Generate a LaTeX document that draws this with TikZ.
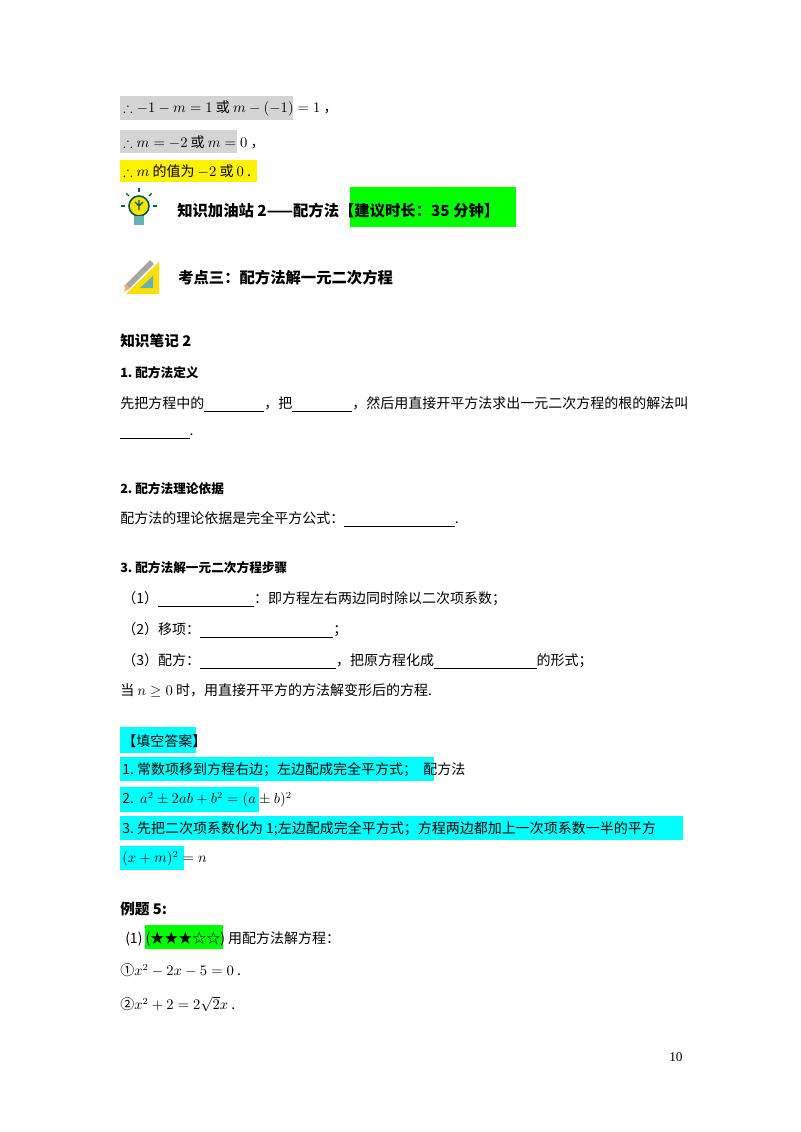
\documentclass[tikz,border=0pt]{standalone}
\usepackage{amsmath,amssymb}
\usepackage{fontspec}
\usetikzlibrary{calc}
\setmainfont{Noto Sans CJK SC}
\newfontfamily\lat{Liberation Serif}
\definecolor{cy}{RGB}{0,255,255}
\definecolor{gr}{RGB}{0,255,0}
\begin{document}
\begin{tikzpicture}[x=0.75pt,y=-0.75pt,
  t/.style={anchor=west,inner sep=0pt,font=\fontsize{10.5pt}{12pt}\selectfont},
  h/.style={t,font=\fontsize{11pt}{13pt}\selectfont\bfseries},
  gray/.style={fill=black!17,draw=none},
  yel/.style={fill=yellow,draw=none},
  grn/.style={fill=gr,draw=none},
  cyn/.style={fill=cy,draw=none}]
\newcommand{\blank}[1]{\rule[-2pt]{#1pt}{0.4pt}}
\useasboundingbox (0,0) rectangle (800,1132);
\fill[white] (0,0) rectangle (800,1132);
% highlights
\fill[gray] (120,96) rectangle (293,120);
\fill[gray] (120,130) rectangle (237,153);
\fill[yel] (120,160) rectangle (257,182);
\fill[grn] (350,187) rectangle (516,227);
\fill[cyn] (120,727) rectangle (196,753);
\fill[cyn] (120,757) rectangle (434,781);
\fill[cyn] (120,787) rectangle (259,812);
\fill[cyn] (120,816) rectangle (683,840);
\fill[cyn] (120,846) rectangle (184,870);
\fill[grn] (145,925) rectangle (223,949);
% top lines
\node[t] (l1) at (123,108) {$\therefore -1-m=1$ 或 $m-(-1)=1$ ，};
\node[t] (l2) at (123,142) {$\therefore m=-2$ 或 $m=0$ ，};
\node[t] (l3) at (123,171) {$\therefore m$ 的值为 $-2$ 或 $0$ .};
% bulb icon
\fill[yellow!85!orange] (139,206) circle (10);
\draw[teal!70!black,line width=1.2] (139,206) circle (10);
\fill[teal!60] (134,216) rectangle (144,225);
\draw[teal!70!black,line width=1] (139,210)--(139,200) (135,202)--(139,206)--(143,202);
\foreach \a in {0,45,90,135,180} \draw[teal!70!black,line width=1] ($(139,206)+(\a+180:14)$) -- ($(139,206)+(\a+180:18)$);
\node[h,font=\fontsize{11.5pt}{13pt}\selectfont\bfseries] (k1) at (177,211) {知识加油站 2——配方法【建议时长：35 分钟】};
% pencil icon
\fill[yellow!80!orange] (126,294) -- (159,294) -- (159,262) -- cycle;
\fill[teal!60] (140,288) -- (153,288) -- (153,276) -- cycle;
\draw[line width=4,gray!70] (126,288) -- (152,262);
\fill[orange!60] (124,292) -- (126,284) -- (130,288) -- cycle;
\node[h,font=\fontsize{11.5pt}{13pt}\selectfont\bfseries] (k2) at (178,278) {考点三：配方法解一元二次方程};
% notes
\node[h] (n0) at (120,341) {知识笔记 2};
\node[h,font=\fontsize{9.5pt}{11pt}\selectfont\bfseries] (n1) at (120,373) {1.\ 配方法定义};
\node[t] (n1a) at (120,404) {先把方程中的\blank{45}，把\blank{45}，然后用直接开平方法求出一元二次方程的根的解法叫};
\node[t] (n1b) at (120,436) {\blank{52}.};
\node[h,font=\fontsize{9.5pt}{11pt}\selectfont\bfseries] (n2) at (120,489) {2.\ 配方法理论依据};
\node[t] (n2a) at (120,519) {配方法的理论依据是完全平方公式：\blank{83}.};
\node[h,font=\fontsize{9.5pt}{11pt}\selectfont\bfseries] (n3) at (120,568) {3.\ 配方法解一元二次方程步骤};
\node[t] (s1) at (122,599) {（1）\blank{72}：即方程左右两边同时除以二次项系数；};
\node[t] (s2) at (122,630) {（2）移项：\blank{100}；};
\node[t] (s3) at (122,661) {（3）配方：\blank{102}，把原方程化成\blank{77}的形式；};
\node[t] (s4) at (120,691) {当 $n\geq 0$ 时，用直接开平方的方法解变形后的方程.};
% answers
\node[t] (a0) at (122,741) {【填空答案】};
\node[t] (a1) at (122,770) {1.\ 常数项移到方程右边；左边配成完全平方式；\ \ 配方法};
\node[t] (a2) at (122,800) {2.\ \ $a^2\pm 2ab+b^2=(a\pm b)^2$};
\node[t] (a3) at (122,829) {3.\ 先把二次项系数化为 1;左边配成完全平方式；方程两边都加上一次项系数一半的平方};
\node[t] (a4) at (122,859) {$(x+m)^2=n$};
% example
\node[h] (e0) at (120,909) {例题 5:};
\node[t] (e1) at (125,939) {(1)\ (★★★☆☆)\ 用配方法解方程：};
\node[t] (e2) at (120,970) {①$x^2-2x-5=0$ .};
\node[t] (e3) at (120,1004) {②$x^2+2=2\sqrt{2}x$ .};
\node[t,font=\lat\fontsize{10pt}{12pt}\selectfont] (pg) at (669,1057) {10};
\end{tikzpicture}
\end{document}
